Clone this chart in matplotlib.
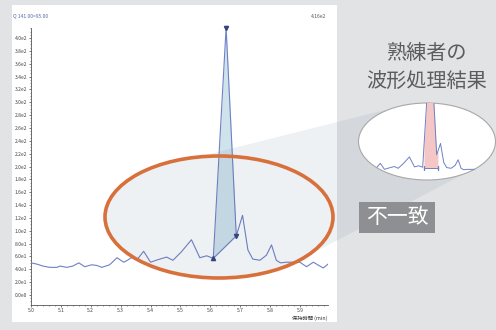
import numpy as np
import matplotlib.pyplot as plt
from matplotlib.patches import Ellipse, Rectangle, Polygon
from matplotlib.ticker import MultipleLocator, FuncFormatter

plt.rcParams['font.family'] = ['Noto Sans CJK JP', 'DejaVu Sans']

# chromatogram trace (retention time in min, intensity)
times = [5.000, 5.020, 5.040, 5.063, 5.087, 5.097, 5.120, 5.140, 5.160, 5.180,
         5.203, 5.220, 5.237, 5.263, 5.288, 5.310, 5.323, 5.335, 5.355, 5.377,
         5.400, 5.425, 5.454, 5.475, 5.503, 5.537, 5.565, 5.588, 5.610, 5.653,
         5.687, 5.708, 5.726, 5.742, 5.766, 5.788, 5.805, 5.821, 5.835, 5.855,
         5.878, 5.900, 5.922, 5.945, 5.978, 5.994]
values = [50, 48, 45, 43, 43, 45, 43, 45, 50, 44,
          47, 46, 43, 47, 58, 51, 54, 58, 55, 68,
          51, 55, 59, 54, 67, 86, 58, 61, 57, 416,
          92, 124, 70, 56, 54, 62, 78, 54, 50, 51,
          51, 51, 44, 51, 42, 48]

# automatic integration (markers) and expert integration (inset)
auto_start = (5.610, 57)
auto_apex = (5.653, 416)
auto_end = (5.687, 92)
expert_start = 5.617
expert_end = 5.694
expert_base = 55

x_ticks = [5.0, 5.1, 5.2, 5.3, 5.4, 5.5, 5.6, 5.7, 5.8, 5.9]
y_ticks = list(range(0, 401, 20))

W, H = 496, 330
blue = '#6f80c4'
dark = '#34437e'

fig = plt.figure(figsize=(W / 100, H / 100), dpi=100)
fig.patch.set_facecolor('#e2e3e5')

# white panel behind the chart
fig.add_artist(Rectangle((12 / W, (H - 322) / H), 325 / W, 317 / H,
                         transform=fig.transFigure, facecolor='white',
                         edgecolor='none', zorder=-1))


def sci(v, pos=None):
    if v == 0:
        return '0.0e0'
    e = int(np.floor(np.log10(abs(v)) + 1e-9))
    return f'{v / 10 ** e:.1f}e{e}'


ax = fig.add_axes([31 / W, (H - 305) / H, 297 / W, 277 / H])
ax.set_facecolor('none')
ax.plot(times, values, color=blue, lw=0.8, zorder=3)

# auto-integrated peak area
seg = [i for i, t in enumerate(times) if auto_start[0] <= t <= auto_end[0]]
seg_t = np.array([times[i] for i in seg])
seg_v = np.array([values[i] for i in seg])
base = np.interp(seg_t, [auto_start[0], auto_end[0]], [auto_start[1], auto_end[1]])
ax.fill_between(seg_t, seg_v, base, color='#cfe3ec', lw=0, zorder=2)
ax.plot([auto_start[0], auto_end[0]], [auto_start[1], auto_end[1]], color=blue, lw=0.8, zorder=3)
ax.plot(*auto_start, marker='^', ms=3, color=dark, clip_on=False, zorder=4)
ax.plot(*auto_end, marker='v', ms=3, color=dark, clip_on=False, zorder=4)
ax.plot(*auto_apex, marker='v', ms=3, color=dark, clip_on=False, zorder=4)

ax.set_xlim(5.0, 5.994)
ax.set_ylim(-15.6, 415.6)
ax.set_xticks(x_ticks)
ax.set_xticklabels([f'{t:.1f}' for t in x_ticks])
ax.xaxis.set_minor_locator(MultipleLocator(0.02))
ax.set_yticks(y_ticks)
ax.yaxis.set_major_formatter(FuncFormatter(sci))
ax.yaxis.set_minor_locator(MultipleLocator(5))
ax.tick_params(labelsize=3.6, colors='#444444', width=0.5, length=1.8, pad=0.8)
ax.tick_params(axis='x', length=1.5, pad=0.3)
ax.tick_params(which='minor', width=0.4, length=1.0, colors='#444444')
for s in ['top', 'right']:
    ax.spines[s].set_visible(False)
for s in ['left', 'bottom']:
    ax.spines[s].set_linewidth(0.6)
    ax.spines[s].set_color('#555555')

# overlay in pixel coordinates for the callout
ov = fig.add_axes([0, 0, 1, 1])
ov.set_xlim(0, W)
ov.set_ylim(H, 0)
ov.axis('off')
ov.patch.set_alpha(0)

cx, cy, a, b = 219, 217, 114, 61
th_u = np.arctan2((157 - cy) / b, (197 - cx) / a)
th_l = np.arctan2((257 - cy) / b, (300 - cx) / a)
th = np.linspace(th_u, th_l - 2 * np.pi, 120)
arc = np.column_stack([cx + a * np.cos(th), cy + b * np.sin(th)])
wedge = np.vstack([arc, [[462, 175], [427, 141], [385, 110]]])
ov.add_patch(Polygon(wedge, closed=True, facecolor=(0.27, 0.39, 0.49), alpha=0.085, lw=0))
ov.add_patch(Ellipse((cx, cy), 2 * a, 2 * b, fill=False, edgecolor='#d8703c', lw=2.6))
ov.add_patch(Ellipse((427, 141.5), 137, 77, facecolor='white', edgecolor='#a8a8a8', lw=0.8))

ov.text(13, 16, 'Q 141.00>95.00', fontsize=3.6, color='#5a68a8', va='center')
ov.text(311, 16, '4.16e2', fontsize=3.6, color='#555555', va='center')
ov.text(327, 318, '保持時間 (min)', fontsize=3.8, color='#333333', ha='right', va='center')

ov.text(427, 53, '熟練者の', fontsize=14.5, color='#5c5c5c', ha='center', va='center')
ov.text(427, 82, '波形処理結果', fontsize=14.5, color='#5c5c5c', ha='center', va='center')
ov.add_patch(Rectangle((359, 202), 76, 31, facecolor='#8e8f92', edgecolor='none'))
ov.text(397, 217, '不一致', fontsize=15, color='white', ha='center', va='center')

# zoomed view of the expert's result, clipped to the small ellipse
ins = fig.add_axes([359 / W, (H - 180) / H, 137 / W, 77 / H])
ins.set_xlim(5.26, 6.013)
ins.set_ylim(21, 238)
ins.axis('off')
ins.patch.set_alpha(0)
clip = Ellipse((0.5, 0.5), 1, 1, transform=ins.transAxes)

pk_t = [expert_start] + [t for t in times if expert_start < t < expert_end] + [expert_end]
pk_v = np.interp(pk_t, times, values)
f = ins.fill_between(pk_t, pk_v, expert_base, color='#f5c6c6', lw=0)
f.set_clip_path(clip)
ln, = ins.plot(times, values, color=blue, lw=0.7)
ln.set_clip_path(clip)
bl, = ins.plot([expert_start, expert_end], [expert_base, expert_base], color=blue, lw=0.7,
               marker='|', ms=3)
bl.set_clip_path(clip)

fig.savefig('out.png', dpi=100, facecolor=fig.get_facecolor())
